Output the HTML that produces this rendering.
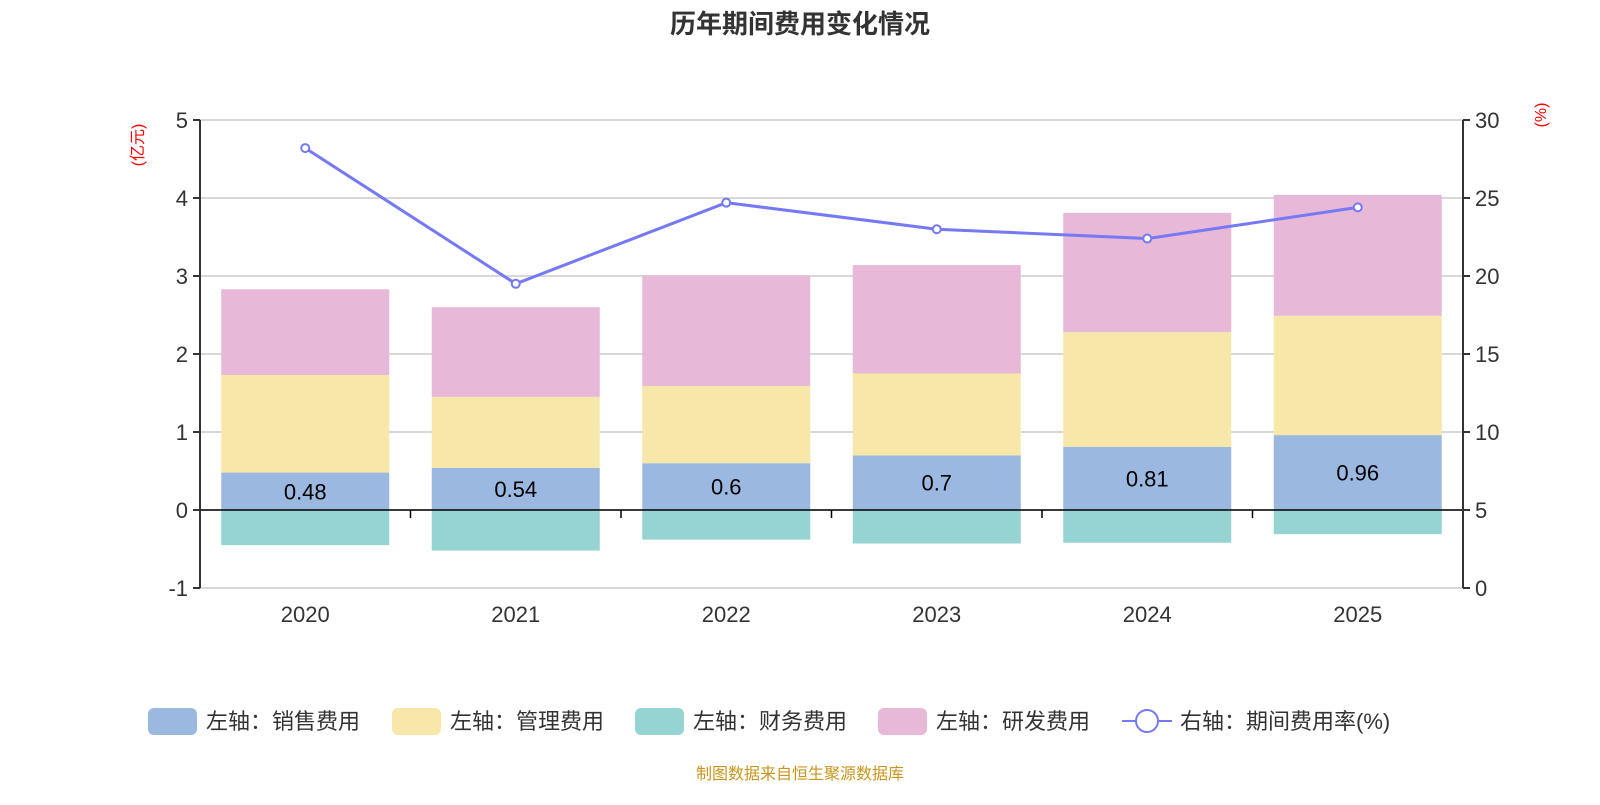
<!DOCTYPE html>
<html><head><meta charset="utf-8"><style>
body{margin:0;background:#fff;}
svg text{font-family:"Liberation Sans","Noto Sans CJK SC",sans-serif;}
</style></head><body>
<svg id="c" width="1600" height="800" xmlns="http://www.w3.org/2000/svg">
<text x="800" y="33" text-anchor="middle" font-size="26" font-weight="bold" fill="#333">历年期间费用变化情况</text>
<text transform="translate(143,145) rotate(-90)" text-anchor="middle" font-size="16" fill="#f00">(亿元)</text>
<text transform="translate(1546,115) rotate(-90)" text-anchor="middle" font-size="16" fill="#f00">(%)</text>
<g id="g"></g>
<text x="800" y="779" text-anchor="middle" font-size="16" fill="#c8961e">制图数据来自恒生聚源数据库</text>
</svg>
<script>
const categories=['2020','2021','2022','2023','2024','2025'];
const sales=[0.48,0.54,0.6,0.7,0.81,0.96];
const admin=[1.25,0.91,0.99,1.05,1.47,1.53];
const finance=[-0.45,-0.52,-0.38,-0.43,-0.42,-0.31];
const rnd=[1.1,1.15,1.42,1.39,1.53,1.55];
const rate=[28.2,19.5,24.7,23.0,22.4,24.4];
const leftTicks=[-1,0,1,2,3,4,5];
const rightTicks=[0,5,10,15,20,25,30];
const NS='http://www.w3.org/2000/svg';
const g=document.getElementById('g');
const X0=200,X1=1463,YT=120,YB=588;
const yL=v=>YB-(v+1)/6*(YB-YT);
const yR=v=>YB-v/30*(YB-YT);
const bw=(X1-X0)/categories.length;
const xc=i=>X0+bw*(i+0.5);
function el(t,a,p){const e=document.createElementNS(NS,t);for(const k in a)e.setAttribute(k,a[k]);(p||g).appendChild(e);return e;}
leftTicks.forEach(v=>{
 const l=el('line',{x1:X0,x2:X1,y1:yL(v),y2:yL(v),stroke:'#ccc','stroke-width':1.5});
 
 
 el('line',{x1:X0-7,x2:X0,y1:yL(v),y2:yL(v),stroke:'#333','stroke-width':2});
 const t=el('text',{x:X0-12,y:yL(v)+8,'text-anchor':'end','font-size':22,fill:'#333'});t.textContent=v;
 
 
});
rightTicks.forEach(v=>{
 el('line',{x1:X1,x2:X1+7,y1:yR(v),y2:yR(v),stroke:'#333','stroke-width':2});
 const t=el('text',{x:X1+12,y:yR(v)+8,'font-size':22,fill:'#333'});t.textContent=v;
 
 
});
const BW=168;
categories.forEach((c,i)=>{
 const x=xc(i)-BW/2;
 const segs=[[0,sales[i],'#9bb8e1','bar-sales'],[sales[i],sales[i]+admin[i],'#f7e7a8','bar-admin'],[sales[i]+admin[i],sales[i]+admin[i]+rnd[i],'#e7b8d8','bar-rnd'],[finance[i],0,'#96d3d3','bar-finance']];
 segs.forEach(s=>{const r=el('rect',{x:x,y:yL(s[1]),width:BW,height:yL(s[0])-yL(s[1]),fill:s[2]});
  
  });
 const t=el('text',{x:xc(i),y:(yL(0)+yL(sales[i]))/2+8,'text-anchor':'middle','font-size':22,fill:'#000'});t.textContent=sales[i];
 
 
 const cl=el('text',{x:xc(i),y:622,'text-anchor':'middle','font-size':22,fill:'#333'});cl.textContent=c;
 
 
 if(i>0)el('line',{x1:X0+bw*i,x2:X0+bw*i,y1:yL(0),y2:yL(0)+8,stroke:'#000','stroke-width':1.5});
});
el('line',{x1:X0,x2:X1,y1:yL(0),y2:yL(0),stroke:'#000','stroke-width':1.5});
el('line',{x1:X0,x2:X0,y1:YT,y2:YB,stroke:'#333','stroke-width':2});
el('line',{x1:X1,x2:X1,y1:YT,y2:YB,stroke:'#333','stroke-width':2});
const pl=el('polyline',{points:rate.map((v,i)=>xc(i)+','+yR(v)).join(' '),fill:'none',stroke:'#7579f3','stroke-width':3});


rate.forEach((v,i)=>{const c=el('circle',{cx:xc(i),cy:yR(v),r:4,fill:'#fff',stroke:'#7579f3','stroke-width':2});
 
 });
const leg=[['左轴：销售费用','#9bb8e1',148],['左轴：管理费用','#f7e7a8',392],['左轴：财务费用','#96d3d3',635],['左轴：研发费用','#e7b8d8',878]];
leg.forEach(l=>{const r=el('rect',{x:l[2],y:708,width:49,height:27,rx:6,fill:l[1]});
 
 
 const t=el('text',{x:l[2]+58,y:729,'font-size':22,fill:'#333'});t.textContent=l[0];
 
 });
el('line',{x1:1122,x2:1172,y1:721,y2:721,stroke:'#7579f3','stroke-width':2});
el('circle',{cx:1147,cy:721,r:11,fill:'#fff',stroke:'#7579f3','stroke-width':2});
const lt=el('text',{x:1180,y:729,'font-size':22,fill:'#333'});lt.textContent='右轴：期间费用率(%)';


</script>
</body></html>
